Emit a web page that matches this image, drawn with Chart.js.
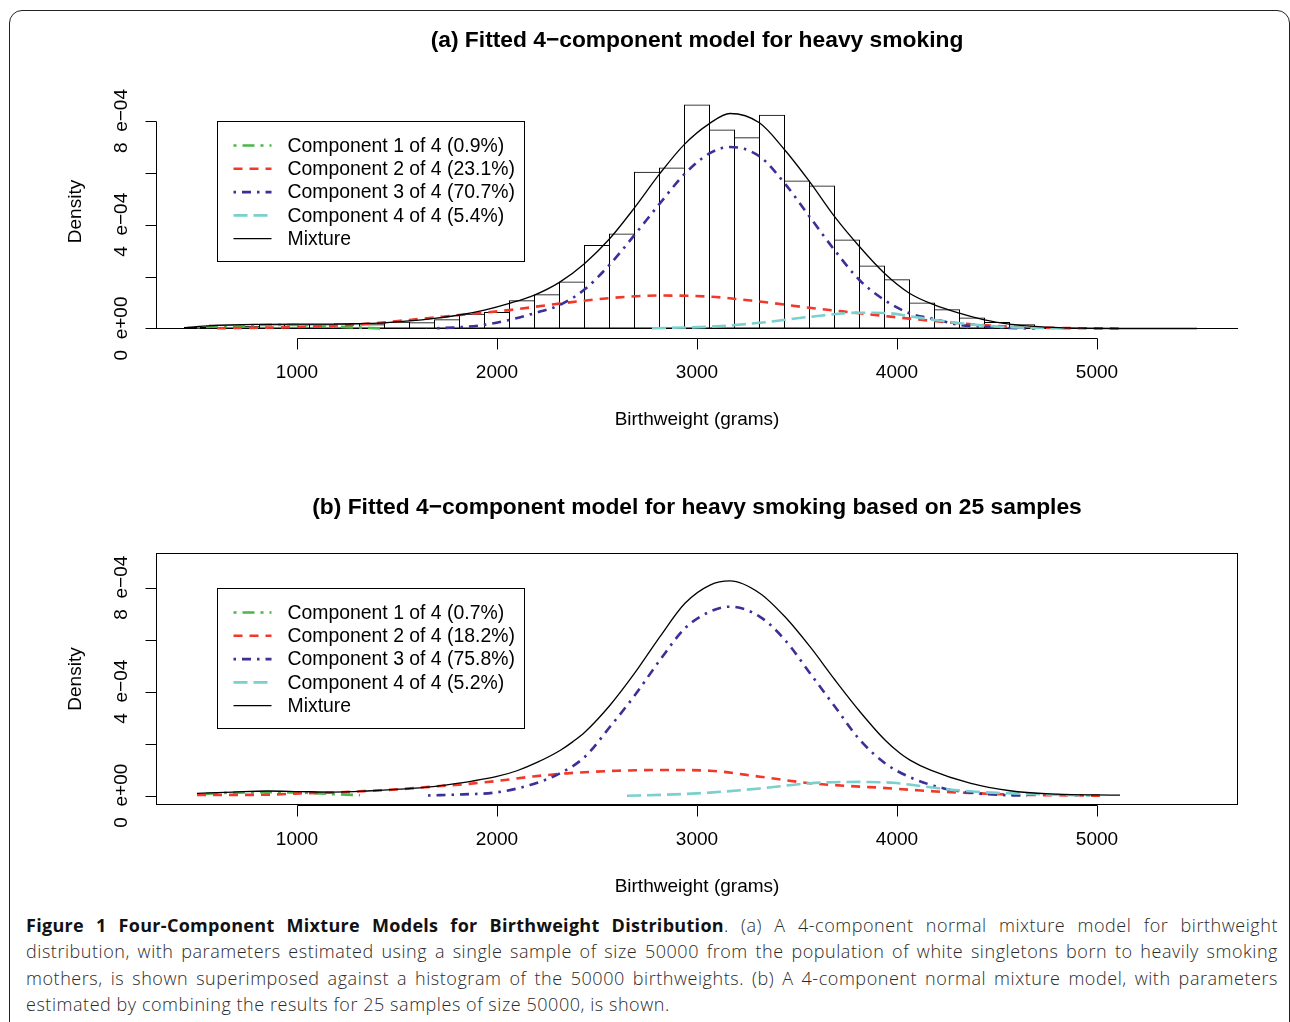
<!DOCTYPE html>
<html>
<head>
<meta charset="utf-8">
<script src="https://cdn.jsdelivr.net/npm/chart.js@4/dist/chart.umd.min.js"></script>
<style>
  html, body { margin: 0; padding: 0; background: #fff; }
  body { width: 1290px; height: 1022px; overflow: hidden; position: relative; font-family: "Liberation Sans", Arial, sans-serif; }
  #frame { position: absolute; left: 9px; top: 10px; width: 1281px; height: 1040px; border: 1.6px solid #222; border-radius: 13px; box-sizing: border-box; }
  canvas { position: absolute; left: 0; }
  .ptitle { position: absolute; left: 156px; width: 1082px; text-align: center; font-weight: bold; font-size: 22.8px; line-height: 26px; color: #000; }
  .cap { position: absolute; left: 26px; width: 1252px; font-family: "Open Sans", "Noto Sans", sans-serif; font-size: 18px; letter-spacing: 0.55px; font-weight: 300; line-height: 26.3px; color: #2a2a2a; white-space: nowrap; }
  .cap div { text-align: justify; text-align-last: justify; }
  .cap div.last { text-align: left; text-align-last: left; }
  .cap b { font-weight: 700; color: #111; letter-spacing: 0.3px; }
</style>
</head>
<body>
<div id="frame"></div>
<canvas id="cA" width="1290" height="470" style="top:0px"></canvas>
<canvas id="cB" width="1290" height="430" style="top:470px"></canvas>
<div class="ptitle" id="tA" style="top:26px"></div>
<div class="ptitle" id="tB" style="top:493px"></div>
<div class="cap" style="top:912px">
  <div><b>Figure 1 Four-Component Mixture Models for Birthweight Distribution</b>. (a) A 4-component normal mixture model for birthweight</div>
  <div>distribution, with parameters estimated using a single sample of size 50000 from the population of white singletons born to heavily smoking</div>
  <div>mothers, is shown superimposed against a histogram of the 50000 birthweights. (b) A 4-component normal mixture model, with parameters</div>
  <div class="last">estimated by combining the results for 25 samples of size 50000, is shown.</div>
</div>
<script>
// ---------------- DATA (density values in units of 1e-4) ----------------
const titleA = "(a) Fitted 4\u2212component model for heavy smoking";
const titleB = "(b) Fitted 4\u2212component model for heavy smoking based on 25 samples";
const xAxisTitle = "Birthweight (grams)";
const yAxisTitle = "Density";
const xTicks = [1000, 2000, 3000, 4000, 5000];
const yTicks = [0, 2, 4, 6, 8];
const yTickLabels = ["0 e+00", "", "4 e\u221204", "", "8 e\u221204"];
const legendA = ["Component 1 of 4 (0.9%)", "Component 2 of 4 (23.1%)", "Component 3 of 4 (70.7%)", "Component 4 of 4 (5.4%)", "Mixture"];
const legendB = ["Component 1 of 4 (0.7%)", "Component 2 of 4 (18.2%)", "Component 3 of 4 (75.8%)", "Component 4 of 4 (5.2%)", "Mixture"];

// Histogram (panel a): bin centres (grams) and densities
const histCenters = [500, 625, 750, 875, 1000, 1125, 1250, 1375, 1500, 1625, 1750, 1875, 2000, 2125, 2250, 2375, 2500, 2625, 2750, 2875,
  3000, 3125, 3250, 3375, 3500, 3625, 3750, 3875, 4000, 4125, 4250, 4375, 4500, 4625, 4750, 4875, 5000, 5125, 5250, 5375, 5500];
const histDensity = [0.07, 0.15, 0.11, 0.16, 0.16, 0.16, 0.20, 0.16, 0.26, 0.24, 0.36, 0.57, 0.64, 1.09, 1.32, 1.81, 3.22, 3.66, 6.04, 6.21,
  8.64, 7.67, 7.37, 8.24, 5.71, 5.51, 3.43, 2.43, 1.90, 1.00, 0.74, 0.42, 0.25, 0.16, 0.06, 0.03, 0.02, 0.01, 0.005, 0.003, 0.002];

// Panel (a) curves
const a_comp1_x = [500, 700, 870, 1030, 1200, 1365, 1435];
const a_comp1_y = [0.05, 0.10, 0.14, 0.13, 0.07, 0.02, 0.0];
const a_comp2_x = [600, 812, 1062, 1312, 1562, 1812, 2062, 2312, 2562, 2812, 3062, 3312, 3562, 3812, 4062, 4312, 4562, 4800, 5130];
const a_comp2_y = [0.01, 0.03, 0.07, 0.16, 0.33, 0.52, 0.71, 0.96, 1.17, 1.27, 1.23, 1.04, 0.80, 0.59, 0.38, 0.20, 0.07, 0.02, 0.0];
const a_comp3_x = [1700, 1812, 1937, 2062, 2187, 2312, 2437, 2562, 2687, 2812, 2937, 3062, 3165, 3312, 3437, 3562, 3687, 3812, 3937, 4062, 4187, 4312, 4437, 4562, 4690];
const a_comp3_y = [0.01, 0.05, 0.14, 0.33, 0.59, 0.90, 1.50, 2.45, 3.60, 4.80, 5.95, 6.75, 7.00, 6.64, 5.61, 4.32, 3.03, 1.87, 1.10, 0.59, 0.36, 0.14, 0.07, 0.02, 0.0];
const a_comp4_x = [2775, 3065, 3315, 3565, 3815, 3940, 4065, 4190, 4315, 4440, 4565, 4715, 4865];
const a_comp4_y = [0.01, 0.07, 0.22, 0.45, 0.61, 0.60, 0.47, 0.33, 0.20, 0.11, 0.05, 0.02, 0.0];
const a_mix_x = [450, 600, 800, 1000, 1200, 1312, 1437, 1562, 1687, 1812, 1937, 2062, 2187, 2312, 2437, 2562, 2687, 2812, 2937, 3062, 3165,
  3312, 3437, 3562, 3687, 3812, 3937, 4062, 4187, 4312, 4437, 4562, 4687, 4812, 4937, 5100, 5500];
const a_mix_y = [0.04, 0.12, 0.16, 0.17, 0.17, 0.19, 0.22, 0.29, 0.39, 0.52, 0.71, 0.97, 1.29, 1.78, 2.50, 3.45, 4.65, 5.95, 7.10, 7.90, 8.29,
  7.93, 6.90, 5.67, 4.32, 3.16, 2.13, 1.36, 0.91, 0.59, 0.33, 0.17, 0.08, 0.03, 0.01, 0.0, 0.0];

// Panel (b) curves
const b_comp1_x = [500, 680, 850, 1015, 1180, 1315];
const b_comp1_y = [0.05, 0.12, 0.13, 0.12, 0.06, 0.02];
const b_comp2_x = [500, 680, 850, 1015, 1180, 1350, 1515, 1680, 1850, 2015, 2180, 2350, 2480, 2600, 2815, 3065, 3315, 3565, 3815, 3915, 4080, 4250, 4415, 4580, 4780, 5015];
const b_comp2_y = [0.03, 0.03, 0.04, 0.09, 0.12, 0.18, 0.25, 0.35, 0.45, 0.58, 0.74, 0.86, 0.92, 0.96, 0.99, 0.96, 0.73, 0.48, 0.35, 0.31, 0.22, 0.14, 0.09, 0.04, 0.02, 0.0];
const b_comp3_x = [1655, 1830, 2000, 2165, 2315, 2440, 2565, 2690, 2815, 2940, 3065, 3165, 3315, 3440, 3565, 3690, 3815, 3940, 4065, 4235, 4400, 4550, 4650];
const b_comp3_y = [0.01, 0.05, 0.13, 0.41, 0.86, 1.50, 2.65, 3.87, 5.22, 6.44, 7.08, 7.27, 6.88, 5.99, 4.71, 3.42, 2.14, 1.25, 0.71, 0.28, 0.09, 0.02, 0.0];
const b_comp4_x = [2650, 2815, 3065, 3315, 3565, 3815, 3915, 3980, 4080, 4250, 4415, 4580, 4750, 4965];
const b_comp4_y = [0.0, 0.03, 0.12, 0.28, 0.48, 0.53, 0.52, 0.50, 0.41, 0.25, 0.14, 0.09, 0.05, 0.0];
const b_mix_x = [500, 680, 850, 1015, 1180, 1350, 1515, 1680, 1750, 1875, 2000, 2100, 2200, 2315, 2380, 2440, 2565, 2690, 2815, 2940, 3065, 3165,
  3315, 3440, 3565, 3690, 3815, 3940, 4015, 4065, 4165, 4365, 4565, 4765, 5115];
const b_mix_y = [0.09, 0.14, 0.18, 0.16, 0.14, 0.18, 0.25, 0.35, 0.42, 0.56, 0.74, 0.96, 1.28, 1.74, 2.08, 2.45, 3.48, 4.73, 6.12, 7.40, 8.10, 8.26,
  7.78, 6.88, 5.73, 4.45, 3.23, 2.14, 1.63, 1.37, 0.99, 0.48, 0.19, 0.07, 0.02];

// ---------------- STYLES ----------------
const FONT = '"Liberation Sans", Arial, sans-serif';
const styles = [
  { color: '#4bb748', width: 2.6, dash: [3, 6, 12, 6] },   // comp 1
  { color: '#f2382a', width: 2.6, dash: [9, 7] },          // comp 2
  { color: '#3b2f98', width: 2.6, dash: [2.5, 6, 9, 6] },  // comp 3
  { color: '#79d0cd', width: 2.6, dash: [14, 6] },         // comp 4
  { color: '#000000', width: 1.3, dash: [] }               // mixture
];

function pts(xs, ys) { return xs.map((x, i) => ({ x: x, y: ys[i] })); }

function lineDs(label, xs, ys, st, order) {
  return {
    type: 'line', label: label, data: pts(xs, ys),
    borderColor: st.color, borderWidth: st.width, borderDash: st.dash, borderCapStyle: 'butt',
    pointRadius: 0, fill: false, cubicInterpolationMode: 'monotone', order: order
  };
}

const rPlot = {
  id: 'rPlot',
  beforeDatasetsDraw(chart, args, o) {
    const ctx = chart.ctx, ys = chart.scales.y, a = chart.chartArea;
    if (o.baseline) {
      ctx.save();
      ctx.strokeStyle = '#000'; ctx.lineWidth = 1;
      const y0 = Math.round(ys.getPixelForValue(0)) + 0.5;
      ctx.beginPath(); ctx.moveTo(a.left, y0); ctx.lineTo(a.right, y0); ctx.stroke();
      ctx.restore();
    }
  },
  afterDraw(chart, args, o) {
    const ctx = chart.ctx, xs = chart.scales.x, ys = chart.scales.y, a = chart.chartArea;
    ctx.save();
    ctx.strokeStyle = '#000'; ctx.lineWidth = 1; ctx.fillStyle = '#000';
    ctx.setLineDash([]);
    if (o.box) {
      ctx.strokeRect(a.left + 0.5, a.top + 0.5, a.right - a.left - 1, a.bottom - a.top - 1);
    }
    // y axis
    const ax = Math.round(a.left) + 0.5;
    const yT = yTicks.map(v => Math.round(ys.getPixelForValue(v)) + 0.5);
    ctx.beginPath(); ctx.moveTo(ax, yT[0]); ctx.lineTo(ax, yT[yT.length - 1]); ctx.stroke();
    yT.forEach(p => { ctx.beginPath(); ctx.moveTo(ax, p); ctx.lineTo(ax - 11, p); ctx.stroke(); });
    ctx.font = '19px ' + FONT; ctx.textAlign = 'center'; ctx.textBaseline = 'middle';
    yTicks.forEach((v, i) => {
      if (!yTickLabels[i]) return;
      ctx.save(); ctx.translate(a.left - 34, ys.getPixelForValue(v)); ctx.rotate(-Math.PI / 2);
      ctx.fillText(yTickLabels[i].replace(' ', '  '), 0, 0); ctx.restore();
    });
    // x axis
    const by = Math.round(a.bottom) + 0.5;
    const xT = xTicks.map(v => Math.round(xs.getPixelForValue(v)) + 0.5);
    ctx.beginPath(); ctx.moveTo(xT[0], by); ctx.lineTo(xT[xT.length - 1], by); ctx.stroke();
    xT.forEach(p => { ctx.beginPath(); ctx.moveTo(p, by); ctx.lineTo(p, by + 11); ctx.stroke(); });
    xTicks.forEach(v => ctx.fillText(String(v), xs.getPixelForValue(v), a.bottom + 35));
    // axis titles
    ctx.fillText(xAxisTitle, (a.left + a.right) / 2, a.bottom + 82);
    ctx.save(); ctx.translate(a.left - 80, (a.top + a.bottom) / 2); ctx.rotate(-Math.PI / 2);
    ctx.fillText(yAxisTitle, 0, 0); ctx.restore();
    // legend
    const lx = Math.round(xs.getPixelForValue(o.legendX)) + 0.5;
    const ly = Math.round(ys.getPixelForValue(o.legendY)) + 0.5;
    ctx.strokeRect(lx, ly, 307, 140);
    const lines = chart.data.datasets.filter(d => d.type === 'line');
    ctx.textAlign = 'left';
    ctx.font = '19.4px ' + FONT;
    o.labels.forEach((lab, i) => {
      const d = lines[i];
      const ry = ly + 24 + i * 23.3;
      ctx.save();
      ctx.strokeStyle = d.borderColor; ctx.lineWidth = d.borderWidth; ctx.setLineDash(d.borderDash);
      ctx.beginPath(); ctx.moveTo(lx + 16, ry); ctx.lineTo(lx + 54, ry); ctx.stroke();
      ctx.restore();
      ctx.fillText(lab, lx + 70, ry + 1);
    });
    ctx.restore();
  }
};

function makeChart(id, datasets, yMin, yMax, padding, opts) {
  return new Chart(document.getElementById(id), {
    type: 'bar',
    data: { datasets: datasets },
    options: {
      responsive: false, animation: false, devicePixelRatio: 1,
      layout: { padding: padding },
      scales: {
        x: { type: 'linear', min: 295, max: 5705, display: false, offset: false },
        y: { type: 'linear', min: yMin, max: yMax, display: false }
      },
      plugins: { legend: { display: false }, title: { display: false }, tooltip: { enabled: false }, rPlot: opts }
    },
    plugins: [rPlot]
  });
}

document.getElementById('tA').textContent = titleA;
document.getElementById('tB').textContent = titleB;

const dsA = [
  lineDs(legendA[0], a_comp1_x, a_comp1_y, styles[0], 4),
  lineDs(legendA[1], a_comp2_x, a_comp2_y, styles[1], 3),
  lineDs(legendA[2], a_comp3_x, a_comp3_y, styles[2], 2),
  lineDs(legendA[3], a_comp4_x, a_comp4_y, styles[3], 1),
  lineDs(legendA[4], a_mix_x, a_mix_y, styles[4], 0),
  { type: 'bar', label: 'Histogram', data: pts(histCenters, histDensity), order: 9,
    backgroundColor: 'rgba(0,0,0,0)', borderColor: '#000', borderWidth: 1, borderSkipped: false,
    barPercentage: 1.04, categoryPercentage: 1, grouped: false }
];
const dsB = [
  lineDs(legendB[0], b_comp1_x, b_comp1_y, styles[0], 4),
  lineDs(legendB[1], b_comp2_x, b_comp2_y, styles[1], 3),
  lineDs(legendB[2], b_comp3_x, b_comp3_y, styles[2], 2),
  lineDs(legendB[3], b_comp4_x, b_comp4_y, styles[3], 1),
  lineDs(legendB[4], b_mix_x, b_mix_y, styles[4], 0)
];

makeChart('cA', dsA, -0.3663, 9.3879, { left: 156, right: 52, top: 85, bottom: 132 },
  { box: false, baseline: true, legendX: 600, legendY: 8, labels: legendA });
makeChart('cB', dsB, -0.3577, 9.3346, { left: 156, right: 52, top: 83, bottom: 95 },
  { box: true, baseline: false, legendX: 600, legendY: 8, labels: legendB });
</script>
</body>
</html>
